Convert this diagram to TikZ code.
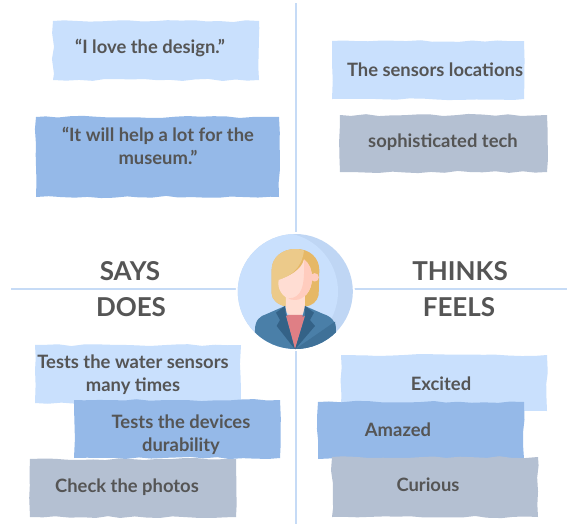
\documentclass[tikz,border=0pt]{standalone}
\usepackage{fontspec}
\setmainfont{Lato}
\usetikzlibrary{decorations.pathmorphing}
\definecolor{lightb}{HTML}{C9E0FD}
\definecolor{midb}{HTML}{95B9E8}
\definecolor{grayb}{HTML}{B4C0D2}
\definecolor{rule}{HTML}{C6DBF6}
\definecolor{ink}{HTML}{555555}
\tikzset{
  x=1pt,y=-1pt,
  card/.style={inner sep=0pt,outer sep=0pt,decorate,decoration={random steps,segment length=13pt,amplitude=1.1pt}},
  lightcard/.style={card,fill=lightb},
  midcard/.style={card,fill=midb},
  graycard/.style={card,fill=grayb},
  cardtext/.style={text=ink,font=\fontsize{18.4}{23}\selectfont\bfseries,align=center,inner sep=0pt},
  heading/.style={text=ink,font=\fontsize{26}{30}\selectfont\bfseries,inner sep=0pt},
  divider/.style={draw=rule,line width=2.4pt},
}
\begin{document}
\begin{tikzpicture}
\pgfmathsetseed{42}
\useasboundingbox (0,0) rectangle (568,525);
\fill[white] (0,0) rectangle (568,525);
% dividers
\coordinate (vt) at (296,3); \coordinate (vb) at (296,524);
\coordinate (hl) at (11,289); \coordinate (hr) at (567,289);
\draw[divider] (vt) -- (vb);
\draw[divider] (hl) -- (hr);
% cards
\node[lightcard,minimum width=206pt,minimum height=59pt] (c1) at (156,50.5) {};
\node[midcard,minimum width=243pt,minimum height=80pt] (c2) at (157.5,157) {};
\node[lightcard,minimum width=192pt,minimum height=58pt] (c3) at (428,70) {};
\node[graycard,minimum width=207pt,minimum height=57pt] (c4) at (443.5,143.5) {};
\node[lightcard,minimum width=206pt,minimum height=56pt] (c5) at (444,383) {};
\node[midcard,minimum width=206pt,minimum height=57pt] (c6) at (421,430.5) {};
\node[graycard,minimum width=206pt,minimum height=60pt] (c7) at (435,487) {};
\node[lightcard,minimum width=206pt,minimum height=58pt] (c8) at (138,374) {};
\node[midcard,minimum width=206pt,minimum height=58pt] (c9) at (177,429) {};
\node[graycard,minimum width=206pt,minimum height=58pt] (c10) at (133,488) {};
% card texts
\node[cardtext] (t1) at (150,48) {“I love the design.”};
\node[cardtext] (t2) at (158,145.5) {“It will help a lot for the\\museum.”};
\node[cardtext] (t3) at (435,70) {The sensors locations};
\node[cardtext] (t4) at (443,142) {sophisticated tech};
\node[cardtext] (t5) at (441,384) {Excited};
\node[cardtext] (t6) at (398,430) {Amazed};
\node[cardtext] (t7) at (428,485) {Curious};
\node[cardtext] (t8) at (133,374.5) {Tests the water sensors\\many times};
\node[cardtext] (t9) at (181,435) {Tests the devices\\durability};
\node[cardtext] (t10) at (127,487) {Check the photos};
% headings
\node[heading] (says) at (130,271) {SAYS};
\node[heading] (does) at (131,307) {DOES};
\node[heading] (thinks) at (460,271) {THINKS};
\node[heading] (feels) at (459,307) {FEELS};
% avatar
\fill[white] (295.3,291.5) circle[radius=59.5pt];
\fill[fill=rule!85!midb] (295.3,291.5) circle[radius=57.5pt];
\begin{scope}
\clip (295.3,291.5) circle[radius=57.5pt];
\fill[lightb] (279,291.5) circle[radius=59pt];
\begin{scope}[shift={(220,220)},x=0.3333pt,y=-0.3333pt]
% hair
\fill[color={rgb,255:red,230;green,184;blue,102}] (225,87) .. controls (270,85) and (298,115) .. (298,150) -- (296,225) .. controls (292,245) and (275,258) .. (255,260) -- (200,260) .. controls (175,255) and (155,240) .. (155,220) -- (155,150) .. controls (155,110) and (190,87) .. (225,87) -- cycle;
\fill[color={rgb,255:red,236;green,202;blue,138}] (252,92) .. controls (240,87) and (232,87) .. (225,87) .. controls (190,87) and (155,110) .. (155,150) -- (155,220) .. controls (155,240) and (175,255) .. (200,260) -- (215,240) -- (176,180) .. controls (205,170) and (245,150) .. (252,92) -- cycle;
% ear
\fill[color={rgb,255:red,255;green,205;blue,190}] (284,172) circle[radius=4.2pt];
% neck
\fill[color={rgb,255:red,255;green,221;blue,210}] (198,225) -- (255,225) -- (255,275) -- (225,300) -- (198,275) -- cycle;
% face
\fill[color={rgb,255:red,255;green,221;blue,211}] (176,180) .. controls (205,170) and (245,150) .. (252,118) .. controls (268,130) and (276,150) .. (276,175) .. controls (276,215) and (250,240) .. (225,240) .. controls (195,240) and (175,215) .. (175,190) -- cycle;
\fill[color={rgb,255:red,255;green,204;blue,190}] (252,118) .. controls (268,130) and (276,150) .. (276,175) .. controls (276,215) and (250,240) .. (225,240) .. controls (215,240) and (210,238) .. (205,235) .. controls (245,235) and (255,200) .. (252,118) -- cycle;
% shirt and jacket
\fill[color={rgb,255:red,223;green,127;blue,133}] (198,285) -- (255,285) -- (240,390) -- (210,390) -- cycle;
\fill[color={rgb,255:red,74;green,127;blue,168}] (105,330) .. controls (105,300) and (120,288) .. (140,282) -- (195,258) -- (225,388) -- (255,258) -- (310,282) .. controls (335,290) and (348,305) .. (348,330) -- (348,400) -- (105,400) -- cycle;
\fill[color={rgb,255:red,63;green,113;blue,152}] (225,388) -- (345,305) .. controls (348,315) and (348,320) .. (348,330) -- (348,400) -- (225,400) -- cycle;
\fill[color={rgb,255:red,223;green,127;blue,133}] (198,288) .. controls (215,296) and (240,296) .. (255,288) -- (225,388) -- cycle;
% lapels
\fill[color={rgb,255:red,52;green,98;blue,135}] (195,258) -- (168,278) -- (180,300) -- (170,318) -- (225,388) -- (198,290) -- cycle;
\fill[color={rgb,255:red,52;green,98;blue,135}] (255,258) -- (282,278) -- (270,300) -- (285,318) -- (225,388) -- (255,290) -- cycle;
\end{scope}
\end{scope}
\end{tikzpicture}
\end{document}
